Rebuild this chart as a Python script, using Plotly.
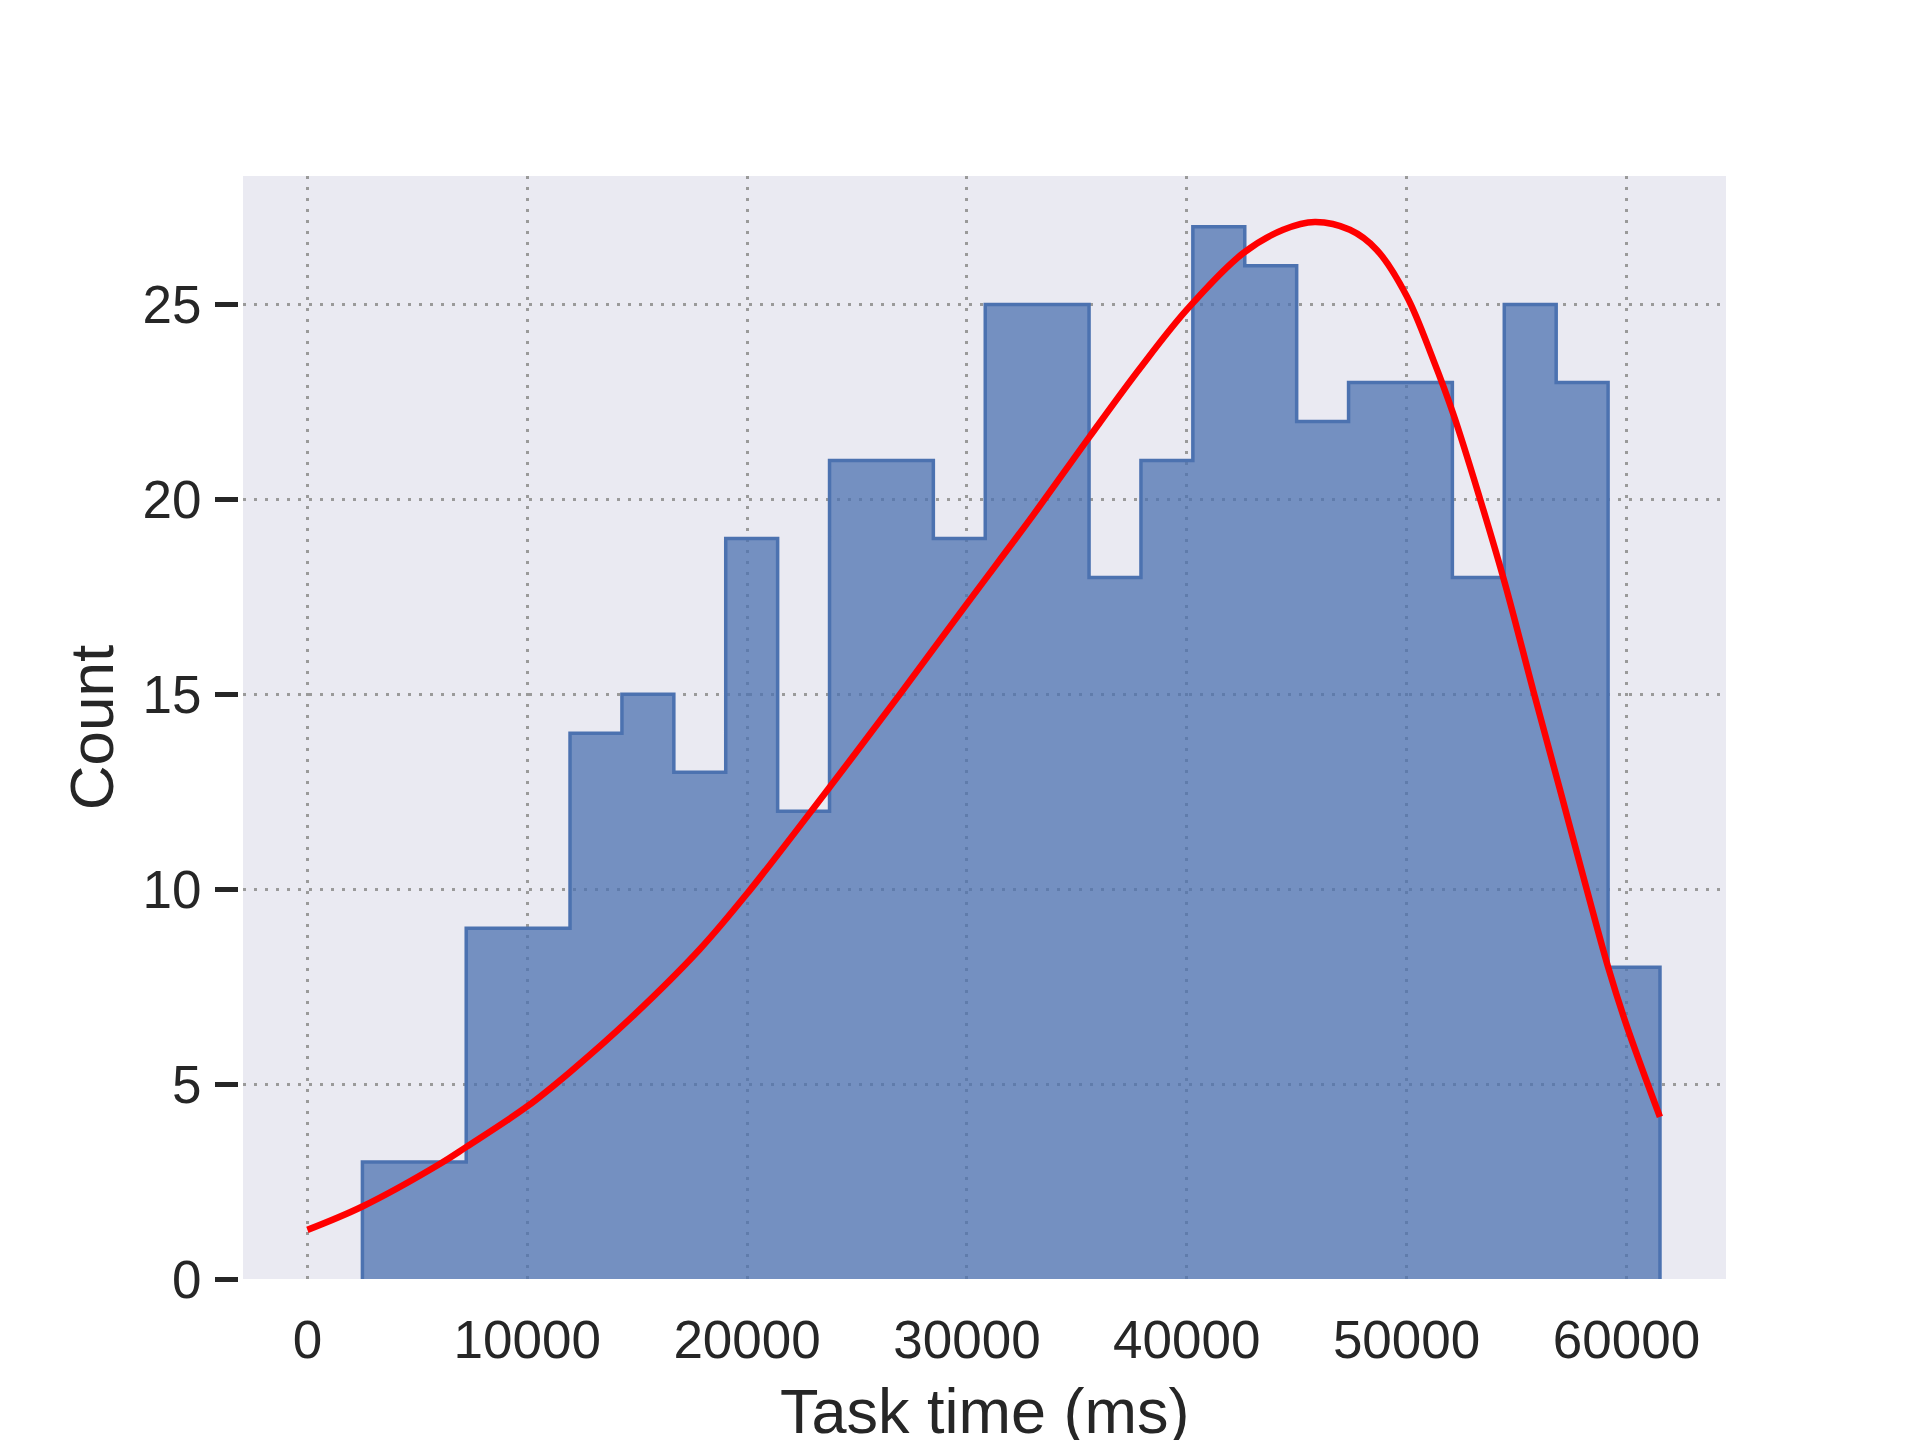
import plotly.graph_objects as go

# ---- data ----
bin_start = 2502.0      # left edge of first bin (ms)
bin_width = 2361.0      # bin width (ms)
counts = [3, 3, 9, 9, 14, 15, 13, 19, 12, 21, 21, 19, 25, 25, 18,
          21, 27, 26, 22, 23, 23, 18, 25, 23, 8]

curve_x = [0, 2502, 6019, 7234, 9977, 11965, 14814, 17848, 20046, 23458,
           26948, 29982, 33013, 35592, 37866, 40005, 42566, 44386,
           45828, 47420, 48635, 50014, 51211, 52121, 53334, 54472, 55760,
           56975, 58189, 59174, 60010, 61524]
curve_y = [1.26, 1.86, 2.95, 3.39, 4.42, 5.32, 6.75, 8.46, 9.92, 12.4,
           15.0, 17.31, 19.6, 21.62, 23.36, 24.87, 26.32, 26.92,
           27.12, 26.92, 26.41, 25.21, 23.59, 22.2, 20.03, 17.85, 15.1,
           12.56, 10.01, 7.99, 6.5, 4.16]

x_ticks = [0, 10000, 20000, 30000, 40000, 50000, 60000]
y_ticks = [0, 5, 10, 15, 20, 25]

# ---- step outline of histogram (stepfilled) ----
edges = [bin_start + bin_width * i for i in range(len(counts) + 1)]
step_x = [edges[0]] + edges[:-1] + [edges[-1], edges[-1]]
step_y = [0] + counts + [counts[-1], 0]

FONT = "Liberation Sans, Arial, sans-serif"
TXT = "#262626"

fig = go.Figure()
fig.add_trace(go.Scatter(
    x=step_x, y=step_y, mode="lines", line_shape="hv",
    line=dict(color="#4C72B0", width=3.5),
    fill="tozeroy", fillcolor="rgba(76,114,176,0.75)",
    hoverinfo="skip", showlegend=False,
))
fig.add_trace(go.Scatter(
    x=curve_x, y=curve_y, mode="lines",
    line=dict(color="#FF0000", width=6.5, shape="spline", smoothing=1.0),
    showlegend=False,
))

# page body has an 8px margin; compensate so the picture lands like the reference
W, H = 1912, 1432
L, R, T, B = 230, 194, 168, 161
plot_w = W - L - R

fig.update_layout(
    width=W, height=H,
    margin=dict(l=L, r=R, t=T, b=B, autoexpand=False),
    paper_bgcolor="white",
    plot_bgcolor="#EAEAF2",
    font=dict(family=FONT, color=TXT),
    showlegend=False,
)
fig.update_xaxes(
    domain=[5 / plot_w, 1],
    range=[-2930, 64530],
    tickvals=x_ticks, ticktext=[str(v) for v in x_ticks],
    ticks="", showline=False, zeroline=False,
    showgrid=True, gridcolor="#9a9a9a", gridwidth=3, griddash="3px,8px",
    tickfont=dict(size=53, family=FONT, color=TXT),
    ticklabelstandoff=25,
    automargin=False,
)
fig.update_yaxes(
    anchor="free", position=0,
    range=[0, 28.3],
    tickvals=y_ticks, ticktext=[str(v) for v in y_ticks],
    ticks="outside", ticklen=23, tickwidth=4.5, tickcolor=TXT,
    showline=False, zeroline=False,
    showgrid=True, gridcolor="#9a9a9a", gridwidth=3, griddash="3px,8px",
    tickfont=dict(size=53, family=FONT, color=TXT),
    ticklabelstandoff=3,
    title=dict(text="Count", font=dict(size=62, family=FONT, color=TXT),
               standoff=7),
    automargin=False,
)
# x-axis title as an annotation so it can sit at the very bottom edge like the reference
fig.add_annotation(
    text="Task time (ms)", xref="x domain", yref="paper", x=0.5, y=0,
    xanchor="center", yanchor="top", yshift=-95, showarrow=False,
    font=dict(size=63, family=FONT, color=TXT),
)

fig.write_html("out.html")
